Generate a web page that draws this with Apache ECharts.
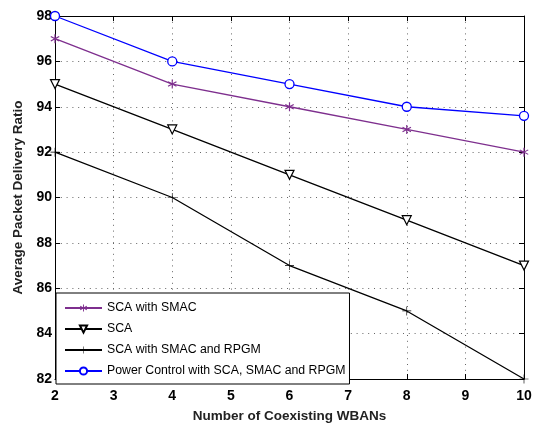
<!DOCTYPE html>
<html><head><meta charset="utf-8">
<script src="https://cdn.jsdelivr.net/npm/echarts@6/dist/echarts.min.js"></script>
<style>html,body{margin:0;padding:0;background:#fff}#c{width:536px;height:428px}</style>
</head><body><div id="c"></div>
<script>
const xValues = [2, 4, 6, 8, 10];
const scaSmac = [97, 95, 94, 93, 92];
const sca = [95, 93, 91, 89, 87];
const scaSmacRpgm = [92, 90, 87, 85, 82];
const powerControl = [98, 96, 95, 94, 93.6];
const seriesNames = ['SCA with SMAC', 'SCA', 'SCA with SMAC and RPGM', 'Power Control with SCA, SMAC and RPGM'];
const xAxisTitle = 'Number of Coexisting WBANs';
const yAxisTitle = 'Average Packet Delivery Ratio';

const FONT = '"Liberation Sans", Arial, Helvetica, sans-serif';
const asterisk = 'path://M-1.2,-10 L1.2,-10 L1.2,10 L-1.2,10 Z M-9.26,-3.96 L-8.06,-6.04 L9.26,3.96 L8.06,6.04 Z M-8.06,6.04 L-9.26,3.96 L8.06,-6.04 L9.26,-3.96 Z';
const plus = 'path://M-0.7,-10 L0.7,-10 L0.7,-0.7 L10,-0.7 L10,0.7 L0.7,0.7 L0.7,10 L-0.7,10 L-0.7,0.7 L-10,0.7 L-10,-0.7 L-0.7,-0.7 Z';

function pairs(arr) { return xValues.map((x, i) => [x, arr[i]]); }

const chart = echarts.init(document.getElementById('c'), null, {renderer: 'canvas'});
const gridSplit = {show: true, lineStyle: {color: '#666', width: 1, type: [1, 4.8]}};
const axisLine = {show: true, lineStyle: {color: '#000', width: 1}};
const tick = {show: true, inside: true, length: 5, lineStyle: {color: '#000', width: 1}};
const tickLabel = {fontFamily: FONT, fontWeight: 'bold', fontSize: 14, color: '#000'};
const titleStyle = {fontFamily: FONT, fontWeight: 'bold', fontSize: 13.5, color: '#222'};

chart.setOption({
  backgroundColor: '#fff',
  animation: false,
  grid: {left: 55, right: 12, top: 16, bottom: 44},
  xAxis: [
    {type: 'value', min: 2, max: 10, interval: 1, position: 'bottom',
     name: xAxisTitle, nameLocation: 'middle', nameGap: 30, nameTextStyle: titleStyle,
     axisLine: axisLine, axisTick: tick, axisLabel: Object.assign({margin: 10}, tickLabel), splitLine: gridSplit},
    {type: 'value', min: 2, max: 10, interval: 1, position: 'top',
     axisLine: axisLine, axisTick: tick, axisLabel: {show: false}, splitLine: {show: false}}
  ],
  yAxis: [
    {type: 'value', min: 82, max: 98, interval: 2, position: 'left',
     name: yAxisTitle, nameLocation: 'middle', nameGap: 25, nameTextStyle: titleStyle,
     axisLine: axisLine, axisTick: tick, axisLabel: Object.assign({margin: 3}, tickLabel), splitLine: gridSplit},
    {type: 'value', min: 82, max: 98, interval: 2, position: 'right',
     axisLine: axisLine, axisTick: tick, axisLabel: {show: false}, splitLine: {show: false}}
  ],
  legend: {
    orient: 'vertical', left: 56, top: 293,
    padding: [9, 4, 7, 8], itemGap: 9, itemWidth: 37, itemHeight: 9,
    backgroundColor: '#fff', borderColor: '#000', borderWidth: 1, borderRadius: 0,
    textStyle: {fontFamily: FONT, fontSize: 12.3, color: '#000'},
    data: seriesNames
  },
  series: [
    {name: seriesNames[0], type: 'line', data: pairs(scaSmac), symbol: asterisk, symbolSize: 9,
     lineStyle: {color: '#7E2F8E', width: 1.3}, itemStyle: {color: '#7E2F8E'}, z: 3},
    {name: seriesNames[1], type: 'line', data: pairs(sca), symbol: 'triangle', symbolRotate: 180, symbolSize: 9,
     lineStyle: {color: '#000', width: 1.3}, itemStyle: {color: '#fff', borderColor: '#000', borderWidth: 1.2}, z: 3},
    {name: seriesNames[2], type: 'line', data: pairs(scaSmacRpgm), symbol: plus, symbolSize: 9,
     lineStyle: {color: '#000', width: 1.3}, itemStyle: {color: '#000'}, z: 3},
    {name: seriesNames[3], type: 'line', data: pairs(powerControl), symbol: 'circle', symbolSize: 9,
     lineStyle: {color: '#0000FF', width: 1.3}, itemStyle: {color: '#fff', borderColor: '#0000FF', borderWidth: 1.3}, z: 3}
  ]
});
</script></body></html>
